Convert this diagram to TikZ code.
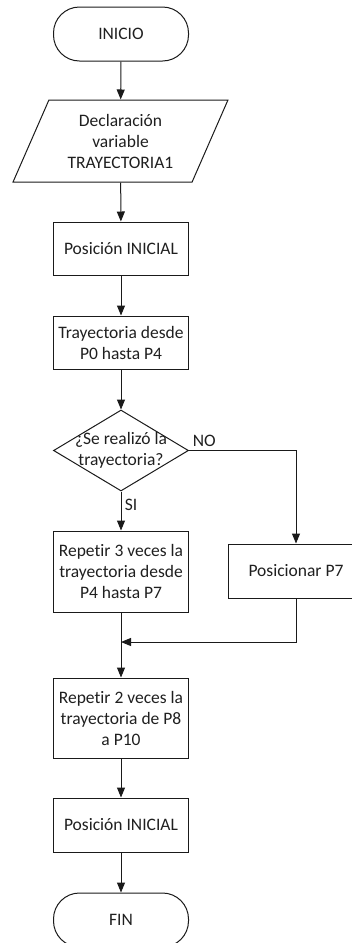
\documentclass[tikz,border=0pt]{standalone}
\usepackage{fontspec}
\setmainfont{Carlito}[Ligatures=NoCommon]
\usepackage{tikz}
\usetikzlibrary{arrows.meta,shapes.geometric}
\definecolor{fcink}{HTML}{1A1A1A}
\definecolor{fctext}{HTML}{1F1F1F}

\begin{document}
\begin{tikzpicture}[x=1pt,y=-1pt,>={Triangle[length=10pt,width=8pt]},
  every node/.style={font=\fontsize{17.5}{21}\selectfont\color{fctext}},
  box/.style={draw=fcink,line width=1pt,rectangle,minimum width=135pt,
    align=center,inner sep=0pt},
  term/.style={box,rounded corners=26pt,minimum height=54pt},
  io/.style={draw=fcink,line width=1pt,trapezium,trapezium left angle=64,
    trapezium right angle=116,trapezium stretches=true,
    minimum width=215pt,minimum height=82pt,align=center,inner sep=0pt},
  cond/.style={draw=fcink,line width=1pt,diamond,minimum width=135pt,
    minimum height=81pt,inner sep=0pt},
  flow/.style={->,draw=fcink,line width=1pt}]
\clip (0,0) rectangle (352,943);
% main column
\node[term] (inicio) at (121,34) {INICIO};
\node[io] (decl) at (120.5,141) {Declaración\\variable\\TRAYECTORIA1};
\node[box,minimum height=53pt] (pos1) at (121,248.5) {Posición INICIAL};
\node[box,minimum height=53pt] (tray) at (121,342.5)
  {Trayectoria desde\\P0 hasta P4};
\node[cond,label={[align=center]center:{¿Se realizó la\\trayectoria?}}]
  (dec) at (121,450.5) {};
\node[box,minimum height=81pt] (rep3) at (121,571.5)
  {Repetir 3 veces la\\trayectoria desde\\P4 hasta P7};
\node[box,minimum width=136pt,minimum height=54pt] (posp7) at (296,571)
  {Posicionar P7};
\coordinate (merge) at (121,642);
\node[box,minimum height=80pt] (rep2) at (121,718)
  {Repetir 2 veces la\\trayectoria de P8\\a P10};
\node[box,minimum height=54pt] (pos2) at (121,825) {Posición INICIAL};
\node[term] (fin) at (121,920) {FIN};
% connectors
\draw[flow] (inicio) -- (decl);
\draw[flow] (decl) -- (pos1);
\draw[flow] (pos1) -- (tray);
\draw[flow] (tray) -- (dec);
\draw[flow] (dec) -- node[right,pos=0.35] {SI} (rep3);
\draw[flow] (dec.east) -- node[above right,pos=0] {NO}
  (dec.east -| posp7) -- (posp7);
\draw[flow] (posp7) |- (merge);
\draw[flow] (rep3) -- (rep2);
\draw[flow] (rep2) -- (pos2);
\draw[flow] (pos2) -- (fin);
\end{tikzpicture}
\end{document}
